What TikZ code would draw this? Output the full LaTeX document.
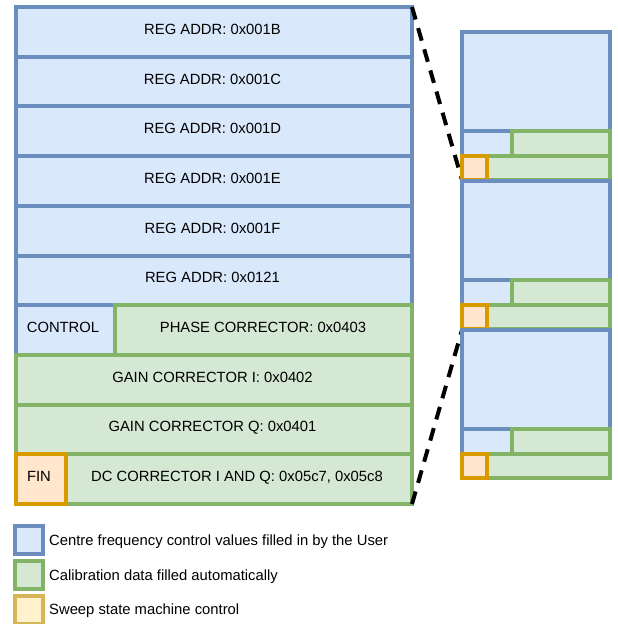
\documentclass[tikz,border=0pt]{standalone}
\usepackage{fontspec}
\setmainfont{Liberation Sans}

\definecolor{userfill}{HTML}{DAE8FC}
\definecolor{userline}{HTML}{6C8EBF}
\definecolor{calfill}{HTML}{D5E8D4}
\definecolor{calline}{HTML}{82B366}
\definecolor{finfill}{HTML}{FFE6CC}
\definecolor{finline}{HTML}{D79B00}
\definecolor{sweepfill}{HTML}{FFF2CC}
\definecolor{sweepline}{HTML}{D6B656}

\tikzset{
  userbox/.style={draw=userline,fill=userfill,line width=4pt},
  calbox/.style={draw=calline,fill=calfill,line width=4pt},
  finbox/.style={draw=finline,fill=finfill,line width=4pt},
  sweepbox/.style={draw=sweepline,fill=sweepfill,line width=4pt},
  zoomline/.style={line width=4pt,dash pattern=on 13pt off 9pt},
  lbl/.style={font=\fontsize{14.8}{17}\selectfont,inner sep=0pt,anchor=base},
}

\begin{document}
\begin{tikzpicture}[x=1pt,y=-1pt]
\useasboundingbox (0,0) rectangle (618,624);

\coordinate (TR) at (412,7);
\coordinate (BR) at (412,504);
\coordinate (G1) at (462,180);
\coordinate (G3) at (462,330);

% register map
\draw[userbox] (16,7) rectangle (412,56.7);
\draw[userbox] (16,56.7) rectangle (412,106.4);
\draw[userbox] (16,106.4) rectangle (412,156.1);
\draw[userbox] (16,156.1) rectangle (412,205.8);
\draw[userbox] (16,205.8) rectangle (412,255.5);
\draw[userbox] (16,255.5) rectangle (412,305.2);
\draw[userbox] (16,305.2) rectangle (115,354.9);
\draw[calbox] (115,305.2) rectangle (412,354.9);
\draw[calbox] (16,354.9) rectangle (412,404.6);
\draw[calbox] (16,404.6) rectangle (412,454.3);
\draw[calbox] (66,454.3) rectangle (412,504);
\draw[finbox] (16,454.3) rectangle (66,504);

\node[lbl] (reg1b) at (212.5,34.3) {REG ADDR: 0x001B};
\node[lbl] (reg1c) at (212.5,84) {REG ADDR: 0x001C};
\node[lbl] (reg1d) at (212.5,133.7) {REG ADDR: 0x001D};
\node[lbl] (reg1e) at (212.5,183.4) {REG ADDR: 0x001E};
\node[lbl] (reg1f) at (212.5,233.1) {REG ADDR: 0x001F};
\node[lbl] (reg121) at (212.5,282.8) {REG ADDR: 0x0121};
\node[lbl] (ctrl) at (63,332.5) {CONTROL};
\node[lbl] (phase) at (263,332.5) {PHASE CORRECTOR: 0x0403};
\node[lbl] (gaini) at (212.5,382.2) {GAIN CORRECTOR I: 0x0402};
\node[lbl] (gainq) at (212.5,431.9) {GAIN CORRECTOR Q: 0x0401};
\node[lbl] (fin) at (39,481.6) {FIN};
\node[lbl] (dc) at (237,481.6) {DC CORRECTOR I AND Q: 0x05c7, 0x05c8};

% zoom lines
\draw[zoomline] (TR) -- (G1);
\draw[zoomline] (BR) -- (G3);

% sweep blocks
\foreach \t in {32,181,330}{
  \draw[userbox] (462,\t) rectangle (610,\t+99);
  \draw[userbox] (462,\t+99) rectangle (512,\t+124);
  \draw[calbox] (512,\t+99) rectangle (610,\t+124);
  \draw[calbox] (462,\t+124) rectangle (610,\t+148);
  \draw[finbox] (462,\t+124) rectangle (487,\t+148);
}

% legend
\draw[userbox] (15,526) rectangle (43,554);
\draw[calbox] (15,561) rectangle (43,589);
\draw[sweepbox] (15,596) rectangle (43,624);
\node[lbl,anchor=base west] (leguser) at (49,545) {Centre frequency control values filled in by the User};
\node[lbl,anchor=base west] (legcal) at (49,580) {Calibration data filled automatically};
\node[lbl,anchor=base west] (legsweep) at (49,614.5) {Sweep state machine control};
\end{tikzpicture}
\end{document}
